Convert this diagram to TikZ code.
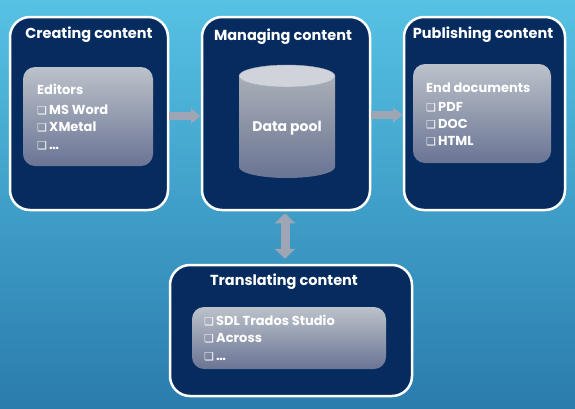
\documentclass[tikz,border=0pt]{standalone}
\usepackage{fontspec}
\setmainfont{Poppins}
\newfontfamily\symfont{DejaVu Sans}
\usetikzlibrary{arrows.meta}
\definecolor{bgtop}{HTML}{56C2E4}
\definecolor{bgbot}{HTML}{2A7CAD}
\definecolor{navy}{HTML}{062B5F}
\definecolor{inntop}{HTML}{BCC2CA}
\definecolor{innbot}{HTML}{6A7494}
\definecolor{arrowgrey}{HTML}{9EA5B5}
\newcommand{\cb}{{\symfont\fontsize{11}{10}\selectfont ❑}\,}
\tikzset{
  bigbox/.style={draw=white, line width=2.5pt, fill=navy, rounded corners=20pt, inner sep=0pt},
  innerbox/.style={rounded corners=12pt, top color=inntop, bottom color=innbot, inner sep=0pt},
  title/.style={text=white, font=\bfseries\fontsize{14.5}{16}\selectfont, inner sep=0pt},
  items/.style={text=white, font=\bfseries\fontsize{13}{17.3}\selectfont, align=left, anchor=north west, inner sep=0pt},
  fatarrow/.style={draw=arrowgrey, line width=8pt, -{Triangle[width=15pt,length=10pt]}},
  dblarrow/.style={draw=arrowgrey, line width=9pt, {Triangle[width=20pt,length=10pt]}-{Triangle[width=20pt,length=10pt]}}
}
\begin{document}
\begin{tikzpicture}[x=1pt,y=-1pt]
\shade[top color=bgtop, bottom color=bgbot] (0,0) rectangle (575,408);
\useasboundingbox (0,0) rectangle (575,408);
% big boxes
\node[bigbox, minimum width=158pt, minimum height=193pt] (crt) at (89,113.5) {};
\node[bigbox, minimum width=168pt, minimum height=193pt] (mng) at (286,113.5) {};
\node[bigbox, minimum width=161pt, minimum height=193pt] (pub) at (484.5,113.5) {};
\node[bigbox, minimum width=242pt, minimum height=131pt] (trn) at (291,330.5) {};
% titles
\node[title] (crtt) at (89,35) {Creating content};
\node[title] (mngt) at (283,37) {Managing content};
\node[title] (pubt) at (483,35) {Publishing content};
\node[title] (trnt) at (284,282) {Translating content};
% inner boxes
\node[innerbox, minimum width=130pt, minimum height=99pt] (crti) at (88,116.5) {};
\node[innerbox, minimum width=138pt, minimum height=99pt] (pubi) at (482,113.5) {};
\node[innerbox, minimum width=194pt, minimum height=62pt] (trni) at (289,338) {};
% cylinder
\shade[top color=inntop!90!black, bottom color=innbot] (239,76) -- (239,167) arc[start angle=180, end angle=360, x radius=48pt, y radius=11pt] -- (335,76) -- cycle;
\fill[fill=inntop!70!white, draw=innbot!60!white, line width=0.4pt] (287,76) ellipse[x radius=48pt, y radius=11pt];
\node[text=white, font=\bfseries\fontsize{14}{14}\selectfont, inner sep=0pt] (pool) at (287,128) {Data pool};
% texts
\node[items] (crtx) at (37,84) {Editors\\[2.5pt]\cb MS Word\\\cb XMetal\\\cb …};
\node[items] (pubx) at (426,83) {End documents\\[1pt]\cb PDF\\\cb DOC\\\cb HTML};
\node[items] (trnx) at (204,315) {\cb SDL Trados Studio\\\cb Across\\\cb …};
% arrows
\draw[fatarrow] ([yshift=-2.5pt]crt.east) -- ([yshift=-2.5pt]mng.west);
\draw[fatarrow] ([yshift=-1.5pt]mng.east) -- ([yshift=-1.5pt]pub.west);
\draw[dblarrow] ([shift={(-1pt,-2pt)}]mng.south) -- ([shift={(-1pt,5pt)}]mng.south |- trn.north);
\end{tikzpicture}
\end{document}
